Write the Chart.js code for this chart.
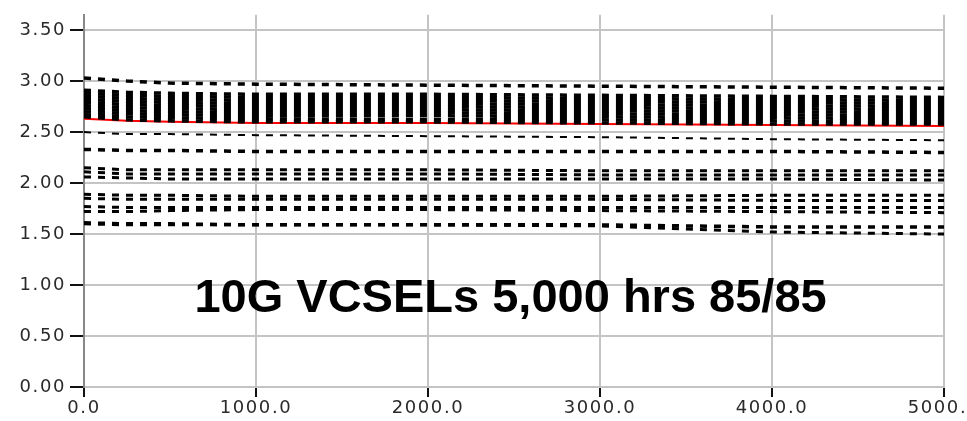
<!DOCTYPE html>
<html>
<head>
<meta charset="utf-8">
<script src="https://cdn.jsdelivr.net/npm/chart.js@4.4.0/dist/chart.umd.min.js"></script>
<style>
  html, body { margin: 0; padding: 0; background: #fff; overflow: hidden; }
  #wrap { width: 990px; height: 421px; }
</style>
</head>
<body>
<div id="wrap"><canvas id="vcselChart"></canvas></div>
<script>
// Hours on test (x)
const hours = [0, 250, 500, 1000, 2000, 3000, 4000, 5000];

// Tick labels
const xTicks = [0, 1000, 2000, 3000, 4000, 5000];
const yTicks = [0, 0.5, 1, 1.5, 2, 2.5, 3, 3.5];

// Top row
const devTop = [3.03, 3.00, 2.98, 2.97, 2.96, 2.95, 2.94, 2.93];

// Dense band 2.6 - 2.9
const band1 = [2.91, 2.89, 2.88, 2.87, 2.87, 2.86, 2.85, 2.84];
const band2 = [2.88, 2.86, 2.85, 2.84, 2.84, 2.83, 2.82, 2.81];
const band3 = [2.85, 2.83, 2.82, 2.81, 2.81, 2.80, 2.79, 2.78];
const band4 = [2.82, 2.80, 2.79, 2.78, 2.78, 2.77, 2.76, 2.75];
const band5 = [2.79, 2.77, 2.76, 2.75, 2.75, 2.74, 2.73, 2.72];
const band6 = [2.76, 2.74, 2.73, 2.72, 2.72, 2.71, 2.70, 2.69];
const band7 = [2.73, 2.71, 2.70, 2.69, 2.69, 2.68, 2.67, 2.66];
const band8 = [2.70, 2.68, 2.67, 2.66, 2.66, 2.65, 2.64, 2.63];
const band9 = [2.67, 2.65, 2.64, 2.63, 2.62, 2.62, 2.61, 2.60];
const band10 = [2.65, 2.62, 2.61, 2.60, 2.60, 2.59, 2.58, 2.58];

// Red reference device
const redDev = [2.63, 2.61, 2.60, 2.59, 2.59, 2.58, 2.57, 2.56];

// Lower devices
const dev248 = [2.50, 2.48, 2.48, 2.47, 2.46, 2.45, 2.43, 2.42];
const dev232 = [2.33, 2.32, 2.32, 2.31, 2.31, 2.31, 2.31, 2.30];
const dev213 = [2.15, 2.13, 2.13, 2.13, 2.13, 2.12, 2.12, 2.12];
const dev209 = [2.11, 2.09, 2.09, 2.09, 2.09, 2.08, 2.08, 2.08];
const dev204 = [2.06, 2.05, 2.04, 2.04, 2.04, 2.04, 2.04, 2.03];
const dev188 = [1.89, 1.88, 1.88, 1.87, 1.87, 1.87, 1.88, 1.88];
const dev184 = [1.85, 1.84, 1.84, 1.84, 1.84, 1.84, 1.83, 1.83];
const dev176 = [1.77, 1.76, 1.76, 1.76, 1.76, 1.76, 1.76, 1.76];
const dev172 = [1.72, 1.72, 1.73, 1.74, 1.74, 1.73, 1.72, 1.71];
const dev160 = [1.61, 1.60, 1.60, 1.59, 1.59, 1.59, 1.57, 1.57];
const dev159 = [1.60, 1.59, 1.59, 1.59, 1.59, 1.58, 1.52, 1.50];

const blackSeries = [
    [devTop, 3.5],
    [band1, 3.5], [band2, 3.5], [band3, 3.5], [band4, 3.5], [band5, 3.5],
    [band6, 3.5], [band7, 3.5], [band8, 3.5], [band9, 3.5], [band10, 3.5],
    [dev248, 2], [dev232, 3.5],
    [dev213, 3], [dev209, 3], [dev204, 3],
    [dev188, 3], [dev184, 3], [dev176, 3], [dev172, 3],
    [dev160, 3.5], [dev159, 3]
];

function toPoints(vals) {
    return vals.map((v, i) => ({ x: hours[i], y: v }));
}

const datasets = blackSeries.map(([vals, w]) => ({
    data: toPoints(vals),
    borderColor: '#000',
    borderWidth: w,
    borderDash: [7, 7],
    pointRadius: 0,
    tension: 0
}));

datasets.push({
    data: toPoints(redDev),
    borderColor: '#ff0000',
    borderWidth: 2,
    pointRadius: 0,
    tension: 0
});

// letter spacing for the tick labels, title drawn on top
const textPlugin = {
    id: 'textPlugin',
    beforeDraw(chart) {
        chart.ctx.letterSpacing = '1.6px';
    },
    beforeDatasetsDraw(chart) {
        chart.ctx.letterSpacing = '0px';
    },
    afterDraw(chart) {
        const ctx = chart.ctx;
        const xs = chart.scales.x, ys = chart.scales.y;
        ctx.save();
        ctx.letterSpacing = '0px';
        ctx.font = 'bold 47px "Liberation Sans", Arial, sans-serif';
        ctx.fillStyle = '#000';
        ctx.textAlign = 'center';
        ctx.textBaseline = 'alphabetic';
        ctx.fillText('10G VCSELs 5,000 hrs 85/85', xs.getPixelForValue(2480), ys.getPixelForValue(0.735));
        ctx.restore();
    }
};

const tickFont = { family: '"DejaVu Sans", sans-serif', size: 18 };

window.onload = function() {
    const ctx = document.getElementById('vcselChart').getContext('2d');
    new Chart(ctx, {
        type: 'line',
        data: { datasets: datasets },
        options: {
            responsive: true,
            maintainAspectRatio: false,
            animation: false,
            layout: { padding: { top: 10, right: 46, left: 0, bottom: 0 } },
            plugins: { legend: { display: false }, tooltip: { enabled: false } },
            scales: {
                x: {
                    type: 'linear',
                    min: 0,
                    max: 5000,
                    afterFit: s => { s.height = 34; },
                    afterBuildTicks: s => { s.ticks = xTicks.map(v => ({ value: v })); },
                    ticks: {
                        color: '#2a2a2a',
                        font: tickFont,
                        padding: 1,
                        maxRotation: 0,
                        callback: v => Number(v).toFixed(1)
                    },
                    grid: {
                        color: '#c4c4c4',
                        lineWidth: 2,
                        tickColor: '#111',
                        tickWidth: 2,
                        tickLength: 10
                    },
                    border: { color: '#c4c4c4', width: 2 }
                },
                y: {
                    min: 0,
                    max: 3.65,
                    afterFit: s => { s.width = 84; },
                    afterBuildTicks: s => { s.ticks = yTicks.map(v => ({ value: v })); },
                    ticks: {
                        color: '#2a2a2a',
                        font: tickFont,
                        padding: 4,
                        callback: v => Number(v).toFixed(2)
                    },
                    grid: {
                        color: '#c4c4c4',
                        lineWidth: 2,
                        tickColor: '#111',
                        tickWidth: 2,
                        tickLength: 14
                    },
                    border: { color: '#888', width: 2 }
                }
            }
        },
        plugins: [textPlugin]
    });
};
</script>
</body>
</html>
